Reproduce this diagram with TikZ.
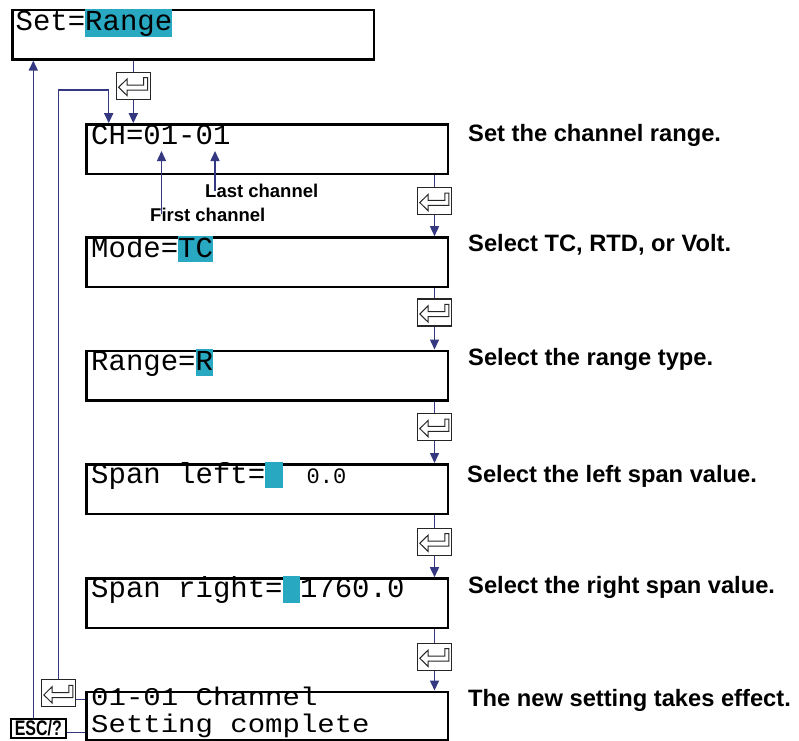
\documentclass[tikz,border=0pt]{standalone}
\usepackage{fontspec}
\usetikzlibrary{arrows.meta}

\newfontfamily\lcdfont{Liberation Mono}
\newfontfamily\notefont{Liberation Sans}
\newfontfamily\keyfont{Liberation Sans}[FakeStretch=0.76]

\definecolor{lcdcyan}{RGB}{41,168,194}
\definecolor{flowblue}{RGB}{52,56,128}

% cyan cursor block behind the value being edited
\newcommand\lcdhl[1]{{\setlength\fboxsep{0pt}\colorbox{lcdcyan}{\rule[-5pt]{0pt}{26.5pt}#1}}}

\tikzset{
  lcdbox/.style={draw, line width=2.6pt, minimum width=361.5pt, minimum height=49.5pt,
    inner sep=0pt, anchor=north west},
  lcdtext/.style={anchor=base west, inner sep=0pt, font=\lcdfont\fontsize{29}{24}\selectfont},
  note/.style={anchor=base west, inner sep=0pt, font=\notefont\bfseries\fontsize{23.7}{28}\selectfont},
  smallnote/.style={note, font=\notefont\bfseries\fontsize{18.5}{22}\selectfont},
  conn/.style={draw=flowblue, line width=1.5pt},
  enterkey/.style={draw=black!85, line width=1.3pt, fill=white, minimum width=34pt,
    minimum height=27pt, inner sep=0pt,
    path picture={
      \draw[line width=1pt, shift={(path picture bounding box.center)}]
        (-14.7,1.6) -- (-6.3,-6.7) -- (-6.3,-0.7) -- (10.3,-0.7) -- (10.3,-8)
        -- (14.3,-8) -- (14.3,4.3) -- (-6.3,4.3) -- (-6.3,9.8) -- cycle;
    }},
  escbox/.style={draw, line width=2pt, minimum width=55pt, minimum height=19pt,
    inner sep=0pt, font=\keyfont\bfseries\fontsize{21}{22}\selectfont}
}

\begin{document}
\begin{tikzpicture}[x=1pt, y=-1pt, >={Triangle[length=10pt,width=9pt]}]
    \useasboundingbox (0,0) rectangle (799,740);

    % LCD screens
    \node[lcdbox] (setbox) at (11.2,8.5) {};
    \node[lcdbox] (chbox) at (85.2,123.2) {};
    \node[lcdbox] (modebox) at (85.2,236.2) {};
    \node[lcdbox] (rangebox) at (85.2,349.5) {};
    \node[lcdbox] (leftbox) at (85.2,463) {};
    \node[lcdbox] (rightbox) at (85.2,577.2) {};
    \node[lcdbox, minimum height=48pt] (donebox) at (85.2,690.5) {};

    % screen texts
    \node[lcdtext] (settext) at (15.4,30.7) {Set=\lcdhl{Range}};
    \node[lcdtext] (chtext) at (91,144.3) {CH=01-01};
    \node[lcdtext] (modetext) at (91,257) {Mode=\lcdhl{TC}};
    \node[lcdtext] (rangetext) at (91,370.5) {Range=\lcdhl{R}};
    \node[lcdtext] (lefttext) at (91,483) {Span left=\lcdhl{\hspace{17.4pt}}\hspace{24pt}{\fontsize{22}{22}\selectfont 0.0}};
    \node[lcdtext] (righttext) at (91,597.5) {Span right=\lcdhl{\hspace{17.4pt}}1760.0};
    \node[lcdtext] (donetexta) at (91,705.7) {\scalebox{1}[0.88]{01-01 Channel}};
    \node[lcdtext] (donetextb) at (91,732.7) {\scalebox{1}[0.88]{Setting complete}};

    % notes on the right
    \node[note] (chnote) at (468,141.5) {Set the channel range.};
    \node[note] (modenote) at (468,251.5) {Select TC, RTD, or Volt.};
    \node[note] (rangenote) at (468,365.5) {Select the range type.};
    \node[note] (leftnote) at (467,482.5) {Select the left span value.};
    \node[note] (rightnote) at (468,593.5) {Select the right span value.};
    \node[note] (donenote) at (468,706.5) {The new setting takes effect.};

    % channel labels
    \node[smallnote] (lastlbl) at (205,197.3) {Last channel};
    \node[smallnote] (firstlbl) at (150,221) {First channel};
    \coordinate (firstch) at (161.5,151);
    \coordinate (lastch) at (215,151);
    \draw[conn,->,shorten <=-7pt] (firstlbl.north -| firstch) -- (firstch);
    \draw[conn,->,shorten <=-7pt] (lastlbl.north -| lastch) -- (lastch);

    % enter keys
    \node[enterkey] (e0) at (133.3,85.7) {};
    \node[enterkey] (e1) at (434.5,201) {};
    \node[enterkey] (e2) at (434.5,312.4) {};
    \node[enterkey] (e3) at (434.5,427) {};
    \node[enterkey] (e4) at (434.5,541.7) {};
    \node[enterkey] (e5) at (434.5,656.7) {};
    \node[enterkey] (eback) at (58.5,693.3) {};
    \node[escbox] (esc) at (38.3,728.5) {ESC/?};

    % forward through the screens
    \draw[conn] (setbox.south -| e0) -- (e0.north);
    \draw[conn,->] (e0.south) -- (e0.south |- chbox.north);
    \foreach \a/\k/\b in {chbox/e1/modebox, modebox/e2/rangebox, rangebox/e3/leftbox,
                          leftbox/e4/rightbox, rightbox/e5/donebox} {
        \draw[conn] (\a.south -| \k) -- (\k.north);
        \draw[conn,->] (\k.south) -- (\k.south |- \b.north);
    }

    % back from the last screen
    \coordinate (loopturn) at (108.7,90);
    \draw[conn,->] (eback.north) |- (loopturn) -- (loopturn |- chbox.north);
    \coordinate (escup) at ([xshift=-5pt]esc.north);
    \draw[conn,->] (escup) -- (escup |- setbox.south);
    \coordinate (ebackout) at ([yshift=-6pt]eback.east);
    \draw[conn] (ebackout) -- (ebackout -| donebox.west);
    \coordinate (escout) at ([yshift=-4pt]esc.east);
    \draw[conn] (escout) -- (escout -| donebox.west);
\end{tikzpicture}
\end{document}
